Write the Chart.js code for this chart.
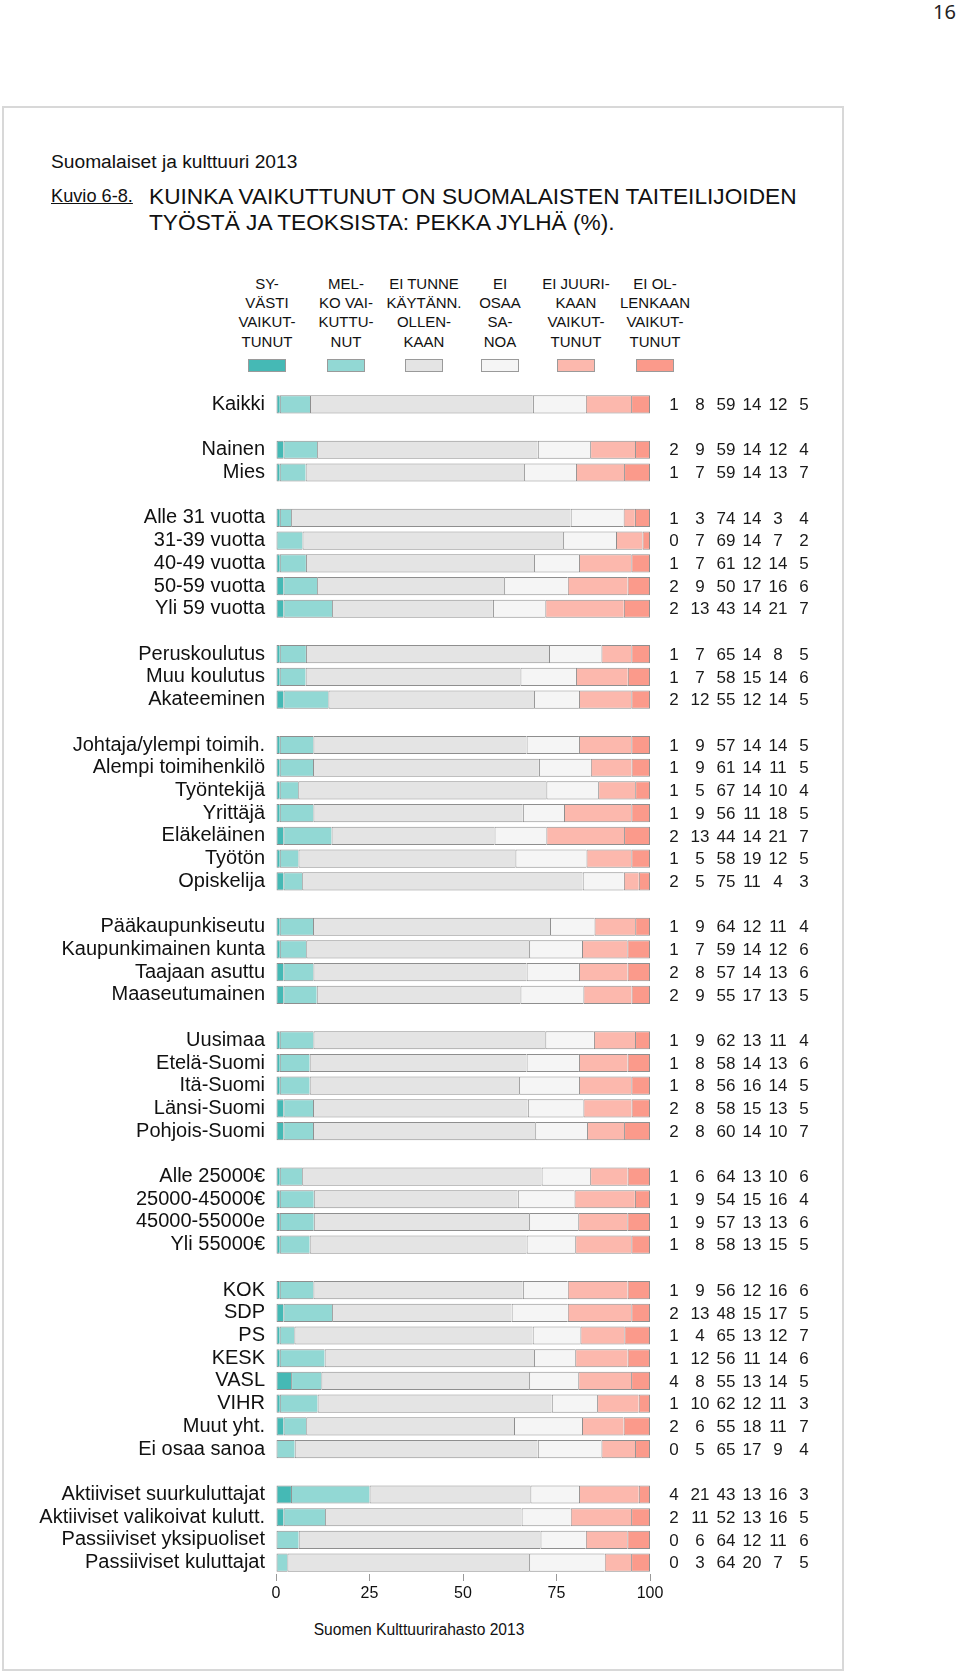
<!DOCTYPE html>
<html lang="fi">
<head>
<meta charset="utf-8">
<title>Kuvio 6-8</title>
<script src="https://cdn.jsdelivr.net/npm/chart.js@4.4.1/dist/chart.umd.min.js"></script>
<style>
  html, body { margin: 0; padding: 0; background: #fff; }
  body { position: relative; width: 960px; height: 1672px; overflow: hidden;
         font-family: 'Liberation Sans', Arial, Helvetica, sans-serif; color: #111; }
  .pageno { position: absolute; right: 4px; top: 0; font: 20px/24px 'Noto Sans', sans-serif; color: #222; }
  .frame { position: absolute; left: 2px; top: 106px; width: 838px; height: 1561px; border: 2px solid #d8d8d8; }
  .series { position: absolute; left: 51px; top: 151px; font-size: 19.2px; line-height: 22px; }
  .kuvio { position: absolute; left: 51px; top: 183px; font-size: 18.2px; line-height: 26px; text-decoration: underline; }
  .title { position: absolute; left: 149px; top: 183px; font-size: 22.7px; line-height: 26px; }
  .legend-item { position: absolute; top: 274px; width: 100px; text-align: center; font-size: 15px; line-height: 19.2px; white-space: pre; }
  .swatch { position: absolute; top: 359px; width: 36px; height: 11px; border: 1px solid #9a9a9a; }
  .source { position: absolute; left: 219px; width: 400px; top: 1620px; text-align: center; font-size: 15.6px; line-height: 20px; }
  #chartBox { position: absolute; left: 0; top: 380px; width: 960px; height: 1234px; }
</style>
</head>
<body>
<div class="pageno">16</div>
<div class="frame"></div>
<div class="series">Suomalaiset ja kulttuuri 2013</div>
<div class="kuvio">Kuvio 6-8.</div>
<div class="title">KUINKA VAIKUTTUNUT ON SUOMALAISTEN TAITEILIJOIDEN<br>TYÖSTÄ JA TEOKSISTA: PEKKA JYLHÄ (%).</div>
<div id="legend"></div>
<div id="chartBox"><canvas id="chart" width="960" height="1234"></canvas></div>
<div class="source">Suomen Kulttuurirahasto 2013</div>

<script>
// Rows of the chart ('' = empty spacer row between groups)
const categories = [
  'Kaikki', '',
  'Nainen', 'Mies', '',
  'Alle 31 vuotta', '31-39 vuotta', '40-49 vuotta', '50-59 vuotta', 'Yli 59 vuotta', '',
  'Peruskoulutus', 'Muu koulutus', 'Akateeminen', '',
  'Johtaja/ylempi toimih.', 'Alempi toimihenkilö', 'Työntekijä', 'Yrittäjä', 'Eläkeläinen', 'Työtön', 'Opiskelija', '',
  'Pääkaupunkiseutu', 'Kaupunkimainen kunta', 'Taajaan asuttu', 'Maaseutumainen', '',
  'Uusimaa', 'Etelä-Suomi', 'Itä-Suomi', 'Länsi-Suomi', 'Pohjois-Suomi', '',
  'Alle 25000€', '25000-45000€', '45000-55000e', 'Yli 55000€', '',
  'KOK', 'SDP', 'PS', 'KESK', 'VASL', 'VIHR', 'Muut yht.', 'Ei osaa sanoa', '',
  'Aktiiviset suurkuluttajat', 'Aktiiviset valikoivat kulutt.', 'Passiiviset yksipuoliset', 'Passiiviset kuluttajat'
];

// Series values (%), same order as categories
const syvasti = [1, null,
  2, 1, null,
  1, 0, 1, 2, 2, null,
  1, 1, 2, null,
  1, 1, 1, 1, 2, 1, 2, null,
  1, 1, 2, 2, null,
  1, 1, 1, 2, 2, null,
  1, 1, 1, 1, null,
  1, 2, 1, 1, 4, 1, 2, 0, null,
  4, 2, 0, 0];
const melko = [8, null,
  9, 7, null,
  3, 7, 7, 9, 13, null,
  7, 7, 12, null,
  9, 9, 5, 9, 13, 5, 5, null,
  9, 7, 8, 9, null,
  9, 8, 8, 8, 8, null,
  6, 9, 9, 8, null,
  9, 13, 4, 12, 8, 10, 6, 5, null,
  21, 11, 6, 3];
const eiTunne = [59, null,
  59, 59, null,
  74, 69, 61, 50, 43, null,
  65, 58, 55, null,
  57, 61, 67, 56, 44, 58, 75, null,
  64, 59, 57, 55, null,
  62, 58, 56, 58, 60, null,
  64, 54, 57, 58, null,
  56, 48, 65, 56, 55, 62, 55, 65, null,
  43, 52, 64, 64];
const eiOsaa = [14, null,
  14, 14, null,
  14, 14, 12, 17, 14, null,
  14, 15, 12, null,
  14, 14, 14, 11, 14, 19, 11, null,
  12, 14, 14, 17, null,
  13, 14, 16, 15, 14, null,
  13, 15, 13, 13, null,
  12, 15, 13, 11, 13, 12, 18, 17, null,
  13, 13, 12, 20];
const eiJuurikaan = [12, null,
  12, 13, null,
  3, 7, 14, 16, 21, null,
  8, 14, 14, null,
  14, 11, 10, 18, 21, 12, 4, null,
  11, 12, 13, 13, null,
  11, 13, 14, 13, 10, null,
  10, 16, 13, 15, null,
  16, 17, 12, 14, 14, 11, 11, 9, null,
  16, 16, 11, 7];
const eiLainkaan = [5, null,
  4, 7, null,
  4, 2, 5, 6, 7, null,
  5, 6, 5, null,
  5, 5, 4, 5, 7, 5, 3, null,
  4, 6, 6, 5, null,
  4, 6, 5, 5, 7, null,
  6, 4, 6, 5, null,
  6, 5, 7, 6, 5, 3, 7, 4, null,
  3, 5, 6, 5];

const seriesNames = [
  'SY-\nVÄSTI\nVAIKUT-\nTUNUT',
  'MEL-\nKO VAI-\nKUTTU-\nNUT',
  'EI TUNNE\nKÄYTÄNN.\nOLLEN-\nKAAN',
  'EI\nOSAA\nSA-\nNOA',
  'EI JUURI-\nKAAN\nVAIKUT-\nTUNUT',
  'EI OL-\nLENKAAN\nVAIKUT-\nTUNUT'
];
const xTicks = [0, 25, 50, 75, 100];

// styling
const seriesColors = ['#45b9b5', '#92d8d4', '#e4e4e4', '#f5f5f5', '#fcb8ad', '#fb9a8b'];
const legendCenters = [267, 346, 424, 500, 576, 655];
const valueOffsets = [24, 50, 76, 102, 128, 154]; // from right edge of plot
const edgeColor = '#8e8e8e';

// Legend (HTML)
const legendEl = document.getElementById('legend');
seriesNames.forEach((name, i) => {
  const t = document.createElement('div');
  t.className = 'legend-item';
  t.style.left = (legendCenters[i] - 50) + 'px';
  t.textContent = name;
  legendEl.appendChild(t);
  const sw = document.createElement('div');
  sw.className = 'swatch';
  sw.style.left = (legendCenters[i] - 19) + 'px';
  sw.style.background = seriesColors[i];
  legendEl.appendChild(sw);
});

// each bar drawn as share of its row total so it fills 0..100
const rawSeries = [syvasti, melko, eiTunne, eiOsaa, eiJuurikaan, eiLainkaan];
const rowTotals = categories.map((c, i) => c ? rawSeries.reduce((s, arr) => s + arr[i], 0) : null);
const shares = rawSeries.map(arr => arr.map((v, i) => v === null ? null : v / rowTotals[i] * 100));

// numbers column on the right
const rowValuesPlugin = {
  id: 'rowValues',
  afterDraw(chart) {
    const { ctx, chartArea, scales: { y } } = chart;
    ctx.save();
    ctx.font = "17px 'Liberation Sans Narrow', 'Liberation Sans', Arial, sans-serif";
    ctx.fillStyle = '#1a1a1a';
    ctx.textAlign = 'center';
    ctx.textBaseline = 'middle';
    categories.forEach((cat, i) => {
      if (!cat) return;
      const yy = y.getPixelForValue(i) + 1;
      rawSeries.forEach((arr, s) => {
        ctx.fillText(String(arr[i]), chartArea.right + valueOffsets[s], yy);
      });
    });
    ctx.restore();
  }
};

new Chart(document.getElementById('chart'), {
  type: 'bar',
  data: {
    labels: categories,
    datasets: shares.map((data, i) => ({
      label: seriesNames[i].replace(/-\n/g, '').replace(/\n/g, ' '),
      data: data,
      backgroundColor: seriesColors[i],
      borderColor: edgeColor,
      borderWidth: { top: 1, bottom: 1, left: 1, right: i === shares.length - 1 ? 1 : 0 },
      borderSkipped: false,
      barPercentage: 0.8,
      categoryPercentage: 1
    }))
  },
  options: {
    indexAxis: 'y',
    responsive: false,
    animation: false,
    layout: { padding: { top: 13, right: 310, left: 0, bottom: 0 } },
    plugins: {
      legend: { display: false },
      tooltip: { enabled: false }
    },
    scales: {
      x: {
        stacked: true,
        min: 0,
        max: 100,
        afterBuildTicks: s => { s.ticks = xTicks.map(v => ({ value: v })); },
        afterFit: s => { s.height = 40; },
        grid: { display: true, drawOnChartArea: false, drawTicks: true, tickLength: 7, color: '#999' },
        border: { display: false },
        ticks: { padding: 3, color: '#111', font: { family: "'Liberation Sans', Arial, sans-serif", size: 16 } }
      },
      y: {
        stacked: true,
        afterFit: s => { s.width = 276; },
        // hidden tick marks just push the labels away from the bars
        grid: { display: false, drawTicks: true, tickLength: 11 },
        border: { display: false },
        ticks: { autoSkip: false, padding: 0, color: '#111', font: { family: "'Liberation Sans', Arial, sans-serif", size: 20 } }
      }
    }
  },
  plugins: [rowValuesPlugin]
});
</script>
</body>
</html>
